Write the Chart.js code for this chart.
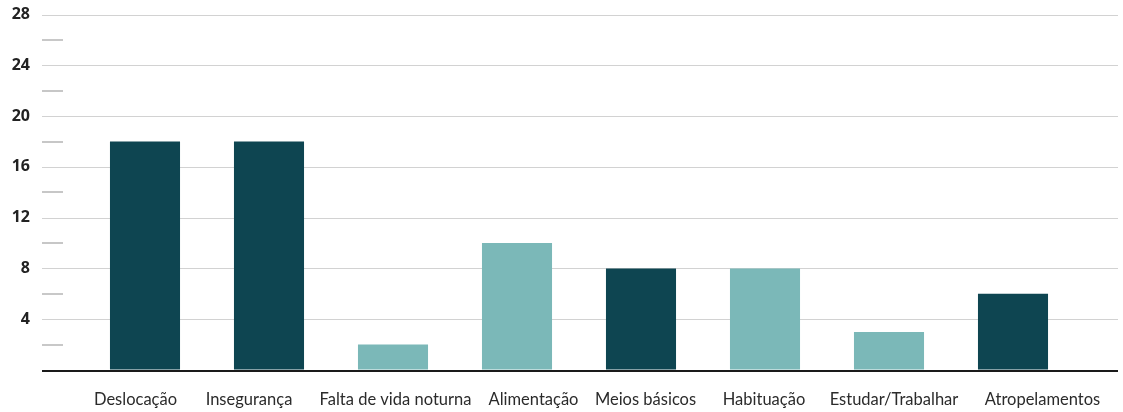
<!DOCTYPE html>
<html>
<head>
<meta charset="utf-8">
<script src="https://cdn.jsdelivr.net/npm/chart.js@4"></script>
<style>
  html, body { margin: 0; padding: 0; background: #fff; }
  canvas { display: block; }
</style>
</head>
<body>
<canvas id="chart" width="1123" height="412"></canvas>
<script>
const categories = ["Deslocação", "Insegurança", "Falta de vida noturna", "Alimentação",
  "Meios básicos", "Habituação", "Estudar/Trabalhar", "Atropelamentos"];
const values = [18, 18, 2, 10, 8, 8, 3, 6];
const shades = ["dark", "dark", "light", "light", "dark", "light", "light", "dark"];
const yTicks = [4, 8, 12, 16, 20, 24, 28];
const yMinor = [2, 6, 10, 14, 18, 22, 26];

const DARK = "#0e4551";
const LIGHT = "#7bb8b8";
// the source places its category labels a little off the bar centres
const labelNudge = [-9.5, -20, 2.5, 16.5, 4.5, -1, 5, 29.5];

// grid lines, minor dashes and base line, drawn from the y scale
const guides = {
  id: "guides",
  beforeDatasetsDraw(c) {
    const y = c.scales.y;
    const ctx = c.ctx;
    ctx.save();
    ctx.strokeStyle = "#d2d2d2";
    ctx.lineWidth = 1.2;
    yTicks.forEach(v => {
      const py = Math.round(y.getPixelForValue(v)) + 0.5;
      ctx.beginPath();
      ctx.moveTo(42, py);
      ctx.lineTo(1118, py);
      ctx.stroke();
    });
    ctx.strokeStyle = "#bababa";
    ctx.lineWidth = 1.6;
    yMinor.forEach(v => {
      const py = Math.round(y.getPixelForValue(v));
      ctx.beginPath();
      ctx.moveTo(42, py);
      ctx.lineTo(63, py);
      ctx.stroke();
    });
    ctx.restore();
  },
  afterDatasetsDraw(c) {
    const x = c.scales.x;
    const y = c.scales.y;
    const ctx = c.ctx;
    ctx.save();
    ctx.strokeStyle = "#1a1a1a";
    ctx.lineWidth = 2;
    const py = Math.round(y.getPixelForValue(0)) + 1;
    ctx.beginPath();
    ctx.moveTo(42, py);
    ctx.lineTo(1118, py);
    ctx.stroke();

    ctx.fillStyle = "#2b2b2b";
    ctx.font = "16.5px Lato";
    ctx.textAlign = "center";
    ctx.textBaseline = "alphabetic";
    categories.forEach((lab, i) => {
      ctx.fillText(lab, x.getPixelForValue(i) + labelNudge[i], 405);
    });
    ctx.restore();
  }
};

new Chart(document.getElementById("chart"), {
  type: "bar",
  data: {
    labels: categories,
    datasets: [{
      data: values,
      backgroundColor: shades.map(s => s === "dark" ? DARK : LIGHT),
      barPercentage: 0.565,
      categoryPercentage: 1
    }]
  },
  options: {
    responsive: false,
    animation: false,
    layout: { padding: { top: 14, right: 48, left: 0, bottom: 0 } },
    plugins: { legend: { display: false }, tooltip: { enabled: false } },
    scales: {
      x: {
        grid: { display: false, drawTicks: false },
        border: { display: false },
        afterFit: s => { s.height = 42; },
        ticks: { display: false }
      },
      y: {
        min: 0,
        max: 28,
        grid: { display: true, drawOnChartArea: false, drawTicks: true, tickLength: 48, color: "rgba(0,0,0,0)" },
        border: { display: false },
        afterFit: s => { s.width = 83; },
        ticks: {
          stepSize: 2,
          padding: 5,
          color: "#222",
          font: { family: "Open Sans", size: 16, weight: "bold" },
          callback: v => (v > 0 && v % 4 === 0) ? v : ""
        }
      }
    }
  },
  plugins: [guides]
});
</script>
</body>
</html>
